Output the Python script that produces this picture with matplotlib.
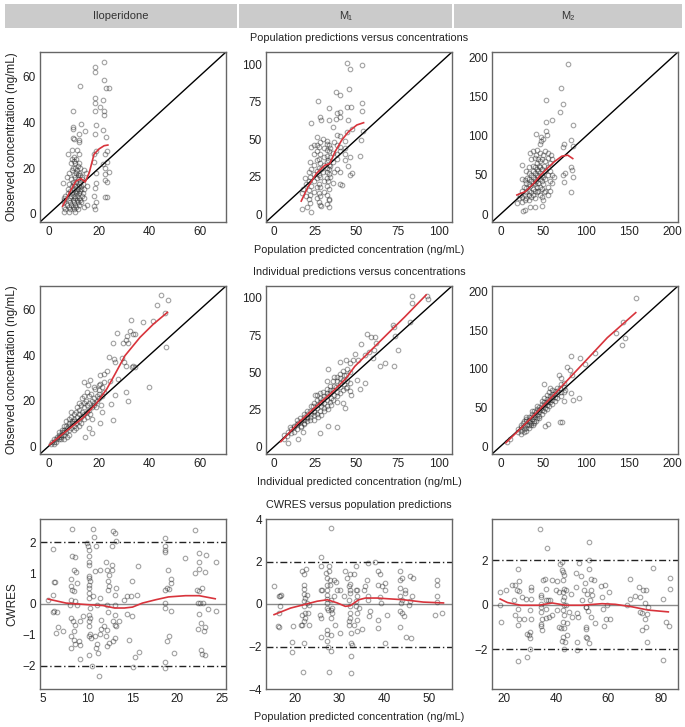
import matplotlib
matplotlib.use("Agg")
import matplotlib.pyplot as plt
from matplotlib.patches import Rectangle

plt.rcParams['font.family'] = ['Liberation Sans', 'DejaVu Sans']

# ---------------- text ----------------
columns = ["Iloperidone", "M\u2081", "M\u2082"]
row_titles = ["Population predictions versus concentrations",
              "Individual predictions versus concentrations",
              "CWRES versus population predictions"]
x_labels = ["Population predicted concentration (ng/mL)",
            "Individual predicted concentration (ng/mL)",
            "Population predicted concentration (ng/mL)"]
y_labels = ["Observed concentration (ng/mL)", "Observed concentration (ng/mL)", "CWRES"]

# ---------------- row 1 : PRED vs DV ----------------
ilo_pop_pts = [
    (5.5, 13.5), (9.5, 45), (9.8, 38), (9.8, 37), (9.7, 33), (9.9, 32.6), (7.8, 26), (11.9, 35), (11.9, 32),
    (12.7, 39), (12.4, 55.6), (14.5, 36), (12, 31.5), (12, 26), (18.2, 63.8), (18.2, 62), (21.8, 66.3),
    (22, 58.5), (22.9, 55), (23.8, 55), (18.2, 50.5), (18.2, 48.5), (18.2, 45), (20.3, 46.4), (21.6, 49.5),
    (22, 45), (22, 43), (18.6, 38.8), (18.2, 35), (21.4, 36.7), (22.6, 33.4), (18.7, 27.4), (18, 26),
    (22.4, 26), (23, 27.5), (23.8, 18.4), (22.4, 19.8), (21.6, 21.7), (23, 22.8), (22.4, 17.3), (22.4, 14.8),
    (23, 14), (18, 22.4), (18.7, 18), (18.9, 13.6), (18.4, 11.4), (18, 7.8), (18.9, 5.3), (18, 3.4),
    (18.3, 2.3), (22.4, 7.3), (23, 7.3),
    (6, 5), (6.1, 6), (5.9, 3), (6.2, 7), (6, 1), (6.5, 8), (6.6, 2), (7.4, 4), (7.5, 9), (7.6, 11),
    (7.3, 16), (8, 3), (8.1, 6), (7.9, 1), (8, 13), (8.2, 18), (8.5, 7), (8.6, 10), (8.4, 5), (8.5, 2),
    (8.7, 22), (9, 4), (9.1, 12), (8.9, 8), (9, 15), (9.2, 19), (9.1, 24), (9.5, 3), (9.6, 6), (9.4, 9),
    (9.5, 14), (9.6, 20), (9.4, 28), (10, 2), (10.1, 5), (10, 8), (10.2, 11), (10, 13), (10.1, 17),
    (10.3, 20), (10, 23), (10.2, 25), (10.5, 1), (10.6, 4), (10.5, 7), (10.4, 10), (10.6, 12), (10.5, 16),
    (10.7, 18), (10.5, 22), (11, 3), (11.1, 6), (10.9, 9), (11.2, 10), (11, 14), (11.1, 19), (11, 24),
    (11.2, 28), (11.5, 2), (11.6, 5), (11.4, 8), (11.5, 11), (11.7, 15), (11.5, 17), (11.6, 21),
    (12, 4), (12.1, 7), (11.9, 9), (12, 12), (12.2, 13), (12.1, 18), (12, 22), (12.5, 6), (12.6, 10),
    (12.4, 14), (12.5, 17), (12.6, 20), (13, 5), (13.1, 8), (12.9, 11), (13, 12), (13.2, 15), (13.5, 9),
    (13.6, 13), (13.4, 16), (14, 3), (14.1, 7), (13.9, 11), (14, 19), (15, 4), (15.1, 12), (14.9, 18),
]
ilo_pop_curve_x = [5.5, 8.2, 10.8, 12.8, 14.5, 16.1, 18.0, 20.0, 22.0, 23.5]
ilo_pop_curve_y = [3.4, 9.2, 14.3, 15.4, 13.9, 18.0, 26.0, 28.3, 29.7, 30.0]

m1_pop_pts = [
    (44.5, 100.7), (46.1, 96.7), (53.3, 99.3), (37.5, 81.5), (40.2, 79.5), (45.7, 83.5), (26.8, 75.5),
    (33.4, 71), (44, 71.7), (46.7, 71.7), (53.3, 74), (53.3, 68.6), (38.1, 67.7), (40, 68.4), (27.7, 64.8),
    (28.7, 62.8), (22.5, 61), (33.2, 62.8), (37.3, 63.7), (40.2, 64.6), (44.7, 62.8), (47.5, 56.6), (44, 55),
    (53.9, 55.7), (52.9, 49.4), (52, 38.8), (46.1, 38.3), (44.7, 32), (47.1, 27.6), (46.1, 26), (41.4, 19.4),
    (22.5, 45), (25.8, 51.7), (16.8, 3.8), (19.7, 4.9), (22.5, 1.6), (21.9, 7.6), (28.3, 5.6), (33.4, 4.9),
    (33.4, 9.4),
    (17, 14), (17.2, 17), (19, 12), (19.1, 20), (18.9, 24), (21, 10), (21.1, 16), (20.9, 22), (21, 28),
    (22, 13), (22.1, 19), (22, 25), (22.2, 30), (21.9, 35), (24, 15), (24.1, 22), (23.9, 27), (24, 33),
    (24.2, 40), (24, 46), (26, 11), (26.1, 18), (25.9, 24), (26, 29), (26.2, 36), (26, 42), (25.9, 46),
    (27, 8), (27.1, 14), (27, 20), (26.9, 26), (27.1, 31), (27, 37), (27.2, 45), (28, 6), (28.1, 12),
    (27.9, 18), (28, 25), (28.2, 30), (28, 34), (27.9, 40), (28.1, 48), (30, 15), (30.1, 22), (29.9, 28),
    (30, 33), (30.2, 38), (30, 44), (29.9, 50), (32, 7), (32.1, 13), (31.9, 19), (32, 24), (32.2, 28),
    (32, 31), (31.9, 35), (32.1, 39), (32, 43), (32.2, 47), (31.8, 49), (33, 10), (33.1, 17), (32.9, 22),
    (33, 27), (33.2, 30), (33, 33), (32.9, 36), (33.1, 42), (33, 46), (34, 25), (34.1, 32), (33.9, 38),
    (34, 44), (36, 21), (36.1, 28), (35.9, 35), (36, 41), (36.2, 48), (36, 58), (38, 30), (38.1, 37),
    (37.9, 40), (38, 46), (38.2, 53), (40, 20), (40.1, 28), (39.9, 42), (40, 45), (40.2, 52), (43, 36),
    (43.1, 40), (42.9, 44), (43, 49),
]
m1_pop_curve_x = [16.4, 20.5, 25.6, 30.7, 33.8, 36.9, 41.0, 45.1, 50.2, 54.3]
m1_pop_curve_y = [8.9, 18.3, 27.2, 32.7, 33.9, 41.6, 49.4, 55.0, 59.5, 61.0]

m2_pop_pts = [
    (78.3, 191.5), (70, 160.7), (72.3, 140), (69.6, 130), (53.4, 145.9), (53.4, 117.5), (60.5, 119.7),
    (84.2, 114.2), (41.1, 101.9), (46.6, 98.5), (49.4, 96), (53.4, 106), (54.5, 100.6), (47.4, 93.5),
    (82.2, 94.3), (74.3, 90), (72.3, 85.8), (84.2, 86.7), (72.3, 49.9), (75.1, 52), (74.3, 41.4),
    (82.2, 60.5), (83, 56.2), (84.2, 47.8), (82.2, 28.3), (24.9, 62.2), (19, 14), (25.7, 4.2), (28.9, 5.5),
    (34.8, 8.9), (40.7, 8.9), (48.6, 11),
    (22, 20), (22.3, 25), (25, 15), (25.2, 22), (24.8, 30), (25, 45), (28, 18), (28.2, 25), (27.8, 35),
    (28, 44), (30, 20), (30.2, 28), (29.8, 33), (30, 40), (30.3, 46), (30, 55), (33, 18), (33.2, 24),
    (32.8, 30), (33, 38), (33.3, 45), (33, 52), (32.8, 60), (35, 22), (35.2, 28), (34.8, 36), (35, 42),
    (35.3, 50), (35, 70), (34.8, 78), (38, 25), (38.2, 32), (37.8, 40), (38, 48), (38.3, 55), (38, 62),
    (37.8, 80), (40, 20), (40.2, 30), (39.8, 38), (40, 45), (40.3, 52), (40, 60), (39.8, 72), (42, 28),
    (42.2, 35), (41.8, 42), (42, 50), (42.3, 58), (42, 65), (41.8, 75), (42.2, 82), (44, 30), (44.2, 40),
    (43.8, 47), (44, 55), (44.3, 62), (44, 70), (46, 25), (46.2, 35), (45.8, 45), (46, 52), (46.3, 60),
    (46, 68), (45.8, 78), (46.2, 90), (48, 22), (48.2, 32), (47.8, 42), (48, 50), (48.3, 58), (48, 70),
    (50, 18), (50.2, 28), (49.8, 38), (50, 48), (50.3, 62), (50, 75), (52, 30), (52.2, 45), (51.8, 55),
    (52, 68), (52.3, 80), (55, 25), (55.2, 35), (54.8, 50), (55, 60), (55.3, 72), (55, 78), (58, 30),
    (58.2, 42), (57.8, 55), (58, 65), (58.3, 75), (60, 40), (60.2, 50), (59.8, 70), (62, 48),
]
m2_pop_curve_x = [19.0, 28.9, 38.7, 46.6, 54.5, 62.5, 71.5, 78.3, 84.2]
m2_pop_curve_y = [24.5, 28.8, 39.3, 49.9, 58.4, 66.8, 74.0, 75.3, 71.0]

# ---------------- row 2 : IPRED vs DV ----------------
ilo_ind_pts = [
    (44.7, 66.6), (43, 62.2), (47.5, 64.3), (46.4, 58.6), (46.8, 43.5), (41.4, 55.2), (37.5, 54.8),
    (32.6, 55.6), (32.5, 50.8), (33.6, 49.3), (34.3, 49.3), (31, 48.3), (27.3, 49.8), (30.7, 46.7),
    (29.7, 45.4), (31.7, 45.4), (25.6, 45.4), (24.1, 39.1), (26, 38.4), (26.4, 37.2), (29.3, 38.8),
    (29.9, 36.9), (30.7, 35.4), (33, 34.7), (33.6, 35.4), (34.3, 35), (40, 26.2), (30.7, 23.7),
    (31.7, 19.9), (26.4, 22.5), (24.7, 18.4), (25.5, 11.3), (20.4, 10.2), (21.1, 14.9), (14.5, 4),
    (17.2, 5.9), (27.7, 29.6), (24.4, 28.8), (23.1, 33.2), (21.8, 31.8), (20.2, 31.5), (16.2, 29.3),
    (15.4, 26.9), (13.9, 28.1), (17.8, 25.9), (19.8, 24.5), (20.4, 27.4),
    (1, 1), (1.2, 2), (2, 1), (2.1, 3), (1.9, 2), (3, 2), (3.1, 4), (2.9, 3), (4, 3), (4.1, 5), (3.9, 4),
    (4.2, 6), (5, 4), (5.1, 6), (4.9, 5), (5.2, 7), (5, 3), (6, 5), (6.1, 7), (5.9, 6), (6.2, 9), (6, 3),
    (7, 6), (7.1, 8), (6.9, 9), (7.2, 4), (7, 11), (8, 7), (8.1, 10), (7.9, 9), (8.2, 12), (8, 5),
    (9, 8), (9.1, 11), (8.9, 13), (9.2, 10), (9, 15), (10, 9), (10.1, 12), (9.9, 14), (10.2, 11),
    (10, 7), (11, 10), (11.1, 13), (10.9, 15), (11.2, 17), (11, 8), (12, 11), (12.1, 14), (11.9, 16),
    (12.2, 19), (12, 9), (13, 13), (13.1, 15), (12.9, 18), (13.2, 21), (13, 10), (14, 14), (14.1, 17),
    (13.9, 19), (14.2, 22), (14, 12), (15, 15), (15.1, 18), (14.9, 20), (15.2, 24), (15, 13), (16, 16),
    (16.1, 19), (15.9, 22), (16.2, 14), (16, 8), (17, 17), (17.1, 20), (16.9, 23), (17.2, 12), (18, 18),
    (18.1, 21), (17.9, 19), (18.2, 25), (19, 20), (19.1, 22), (18.9, 17), (20, 21), (20.1, 23),
    (19.9, 27), (21, 22), (21.1, 26), (20.9, 18), (22, 24), (22.1, 28),
]
ilo_ind_curve_x = [0.3, 7.3, 13.9, 19.1, 23.1, 26.4, 30.3, 36.3, 41.6, 47.2]
ilo_ind_curve_y = [0.6, 6.9, 12.7, 19.0, 25.2, 31.8, 39.8, 47.9, 53.7, 58.9]

m1_ind_pts = [
    (83.8, 101.1), (83.8, 96.5), (92.9, 101.1), (93.3, 99.3), (82.2, 83.8), (71.9, 81.8), (72.7, 80.5),
    (73.1, 74.3), (75.2, 65), (72.9, 53.9), (67.5, 56.1), (64, 53.9), (60, 59.4), (56.4, 75.6), (59, 73.8),
    (61, 73.4), (62.1, 69.4), (60.6, 65), (57.4, 63.9), (52.5, 68.7), (55, 61.9), (50.9, 58.3),
    (49.3, 62.1), (47.9, 57.9), (55, 42.6), (52.1, 38.8), (50.5, 45), (43.8, 58.3), (39.8, 57.2),
    (32.7, 52.1), (38.4, 12.9), (32.7, 14), (27.7, 9.1), (14.5, 5.1), (8.1, 2.4), (17.6, 9.5), (41.8, 29),
    (42.8, 26.2), (24.6, 34.4), (43.8, 39.5), (45.9, 37.3), (46.9, 35),
    (6, 5), (6.2, 8), (8, 7), (8.2, 10), (10, 9), (10.2, 12), (9.8, 13), (12, 10), (12.2, 14), (11.8, 13),
    (14, 12), (14.2, 16), (13.8, 15), (14.1, 18), (16, 14), (16.2, 17), (15.8, 19), (16.1, 13), (18, 15),
    (18.2, 18), (17.8, 20), (18.1, 22), (17.9, 16), (20, 17), (20.2, 20), (19.8, 22), (20.1, 24),
    (19.9, 19), (22, 18), (22.2, 22), (21.8, 24), (22.1, 27), (21.9, 20), (24, 21), (24.2, 24),
    (23.8, 27), (24.1, 29), (23.9, 18), (24.3, 23), (26, 22), (26.2, 26), (25.8, 28), (26.1, 31),
    (25.9, 35), (26.3, 20), (28, 24), (28.2, 27), (27.8, 30), (28.1, 33), (27.9, 36), (28.3, 21),
    (28.4, 29), (30, 26), (30.2, 29), (29.8, 32), (30.1, 34), (29.9, 37), (30.3, 24), (32, 27),
    (32.2, 31), (31.8, 34), (32.1, 36), (31.9, 39), (32.3, 44), (32.4, 25), (34, 30), (34.2, 33),
    (33.8, 36), (34.1, 38), (33.9, 41), (34.3, 28), (36, 31), (36.2, 35), (35.8, 38), (36.1, 41),
    (35.9, 44), (36.3, 47), (38, 34), (38.2, 37), (37.8, 40), (38.1, 44), (37.9, 47), (38.3, 30),
    (40, 36), (40.2, 40), (39.8, 43), (40.1, 46), (39.9, 49), (42, 38), (42.2, 42), (41.8, 45),
    (42.1, 48), (41.9, 51), (44, 40), (44.2, 44), (43.8, 48), (44.1, 52), (46, 43), (46.2, 50), (45.8, 56),
]
m1_ind_curve_x = [4.0, 14.5, 24.6, 34.7, 43.8, 48.9, 59.0, 69.1, 79.2, 92.3]
m1_ind_curve_y = [3.3, 15.7, 26.2, 36.1, 46.1, 53.9, 65.0, 76.1, 87.1, 102.0]

m2_ind_pts = [
    (157.7, 192), (142.9, 160.4), (134.2, 146.5), (142.1, 131), (145.2, 140.2), (110, 120.4), (82.2, 117),
    (92.8, 114.1), (98.3, 106.5), (92, 61.9), (82.2, 68.6), (72, 30.7), (69.7, 31.6), (54.8, 28.6),
    (52.1, 26.5), (38.4, 27.4), (50.9, 80), (57.9, 75.4), (67.7, 91.8), (70.5, 87.6), (77.5, 102.3),
    (81.4, 98.9), (83.4, 91.8), (75.5, 72.8), (84.5, 60.2), (73.6, 58.1), (7, 5.5), (11, 8.8),
    (20, 18), (20.3, 22), (24, 20), (24.3, 25), (23.7, 28), (24.1, 16), (27, 22), (27.3, 26), (26.7, 30),
    (27.1, 33), (26.9, 18), (30, 24), (30.3, 28), (29.7, 32), (30.1, 35), (29.9, 20), (30.2, 38),
    (33, 27), (33.3, 31), (32.7, 34), (33.1, 38), (32.9, 24), (36, 30), (36.3, 35), (35.7, 38),
    (36.1, 42), (35.9, 28), (36.2, 45), (39, 33), (39.3, 38), (38.7, 41), (39.1, 45), (38.9, 30),
    (42, 36), (42.3, 40), (41.7, 44), (42.1, 48), (41.9, 33), (42.2, 52), (45, 39), (45.3, 44),
    (44.7, 47), (45.1, 51), (44.9, 36), (48, 42), (48.3, 47), (47.7, 50), (48.1, 54), (47.9, 58),
    (51, 45), (51.3, 50), (50.7, 53), (51.1, 57), (50.9, 62), (54, 48), (54.3, 53), (53.7, 57),
    (54.1, 61), (53.9, 66), (57, 52), (57.3, 57), (56.7, 60), (57.1, 65), (56.9, 70), (60, 55),
    (60.3, 60), (59.7, 64), (60.1, 68), (59.9, 73), (63, 58), (63.3, 63), (62.7, 67), (63.1, 72),
    (66, 62), (66.3, 67), (65.7, 71), (66.1, 75), (70, 65), (70.3, 70), (69.7, 75), (70.1, 80),
    (74, 70), (74.3, 76), (73.7, 82),
]
m2_ind_curve_x = [6.3, 26.6, 46.2, 65.8, 85.3, 104.9, 124.5, 157.7]
m2_ind_curve_y = [4.6, 26.5, 48.4, 70.7, 93.9, 117.0, 140.2, 172.6]

# ---------------- row 3 : PRED vs CWRES ----------------
ilo_cw_pts = [
    (5.6, 0.12), (6.2, 1.8), (6.2, 0.29), (6.3, 0.7), (6.4, 0.7), (6.2, -0.26), (6.3, -0.22), (6.6, -0.26),
    (6.5, -0.94), (6.7, -0.75), (7.3, -0.89), (8.3, 2.43), (8.3, 1.55), (8.6, 1.51), (8.5, 1.11),
    (8.7, 1.03), (8.1, 0.81), (8.2, 0.57), (8.3, 0.46), (8.5, 0.41), (8.8, 0.68), (8.2, 0.14), (8.6, 0.09),
    (8, -0.02), (8.8, -0.02), (8.2, -0.45), (8.4, -0.56), (8.6, -0.67), (8.5, -0.89), (8.2, -1.05),
    (8.5, -1.16), (8.6, -1.29), (8.1, -1.44), (9, -1.21), (9.1, -1.32), (9.1, -1.78), (9.1, -0.56),
    (9.5, -0.4), (9.9, 1.98), (10, 1.87), (10.1, 1.76), (10.2, 1.57), (10.1, 1.38), (10.1, 1.28),
    (10.2, 0.92), (10.1, 0.84), (10.3, 0.74), (10.2, 0.63), (10.1, 0.52), (10.2, 0.36), (10.1, 0.19),
    (10.3, -0.13), (10.2, -0.35), (10.3, -0.45), (10.1, -0.56), (10.2, -0.72), (10.3, -0.96),
    (10.1, -1.05), (10.4, -1.1), (10.2, -1.64), (10.6, 2.43), (10.7, 2.19), (10.9, 1.87), (10.8, 1.06),
    (10.6, 0.25), (11, -0.02), (10.8, -1.05), (11, -1.29), (10.9, -1.43), (11.1, -1.59), (10.5, -2),
    (11.3, -2.35), (11.4, 1.11), (11.4, 0.19), (11.5, -0.51), (11.5, -0.81), (11.4, -0.99), (11.8, -0.72),
    (12.1, 1.38), (12.2, 1.11), (12.3, 0.74), (12.3, 0.46), (12.2, -0.02), (12.3, -0.27), (12.2, -0.83),
    (12.1, -1.05), (12.2, -1.35), (12.4, -1.26), (12.4, 0.95), (12.4, 0.57), (12.7, 1.87), (12.8, 2.36),
    (13.1, 2.3), (13.2, 2.03), (12.7, 1.28), (12.7, 1.11), (13, 0.3), (13.2, 0.52), (13, -0.02),
    (13.1, -0.35), (12.8, -0.56), (13, -0.67), (13.1, -1.1), (12.8, -1.21), (13.2, -0.72), (13.5, -0.56),
    (14, 0.14), (14.4, -0.31), (14.4, 0.25), (14.6, -1.18), (14.8, 0.27), (14.9, 0.76), (14.9, -0.38),
    (15, -2.05), (15.3, -1.72), (15.5, 0.3), (15.6, 1.24), (15.7, -1.57), (18.6, 2.14), (18.6, 1.87),
    (18.6, 1.76), (18.6, 1.68), (18.6, 0.46), (18.8, 0.52), (18.6, 0.03), (18.6, -0.13), (18.8, -1.19),
    (18.6, -1.89), (18.6, -2.09), (18.9, 1.11), (19.1, 0.49), (19.3, 0.68), (19.3, 0.81), (19.3, -0.24),
    (19.1, -1.05), (19.6, -1.59), (20.8, 1.49), (21.9, 2.39), (21.9, 1.01), (22.2, 0.46), (22.3, 0.03),
    (22.4, 1.65), (22.4, 1.38), (22.4, 1.14), (22.4, 0.41), (22.5, 0.03), (22.4, -0.31), (22.3, -0.81),
    (22.6, -0.62), (22.7, 0.52), (22.6, -1.48), (22.7, -1.61), (22.9, -0.89), (23.1, 1.03), (23.1, -0.75),
    (23.1, -1.64), (23.2, 1.6), (23.4, -0.16), (24.3, 1.38), (24.3, -0.24), (22.8, 0.03),
]
ilo_cw_curve_x = [5.6, 7.6, 9.9, 11.7, 13.0, 14.1, 15.0, 16.1, 17.6, 19.0, 20.9, 22.4, 24.2]
ilo_cw_curve_y = [0.16, 0.03, -0.02, -0.05, -0.13, -0.13, -0.10, 0.03, 0.14, 0.23, 0.27, 0.27, 0.17]

m1_cw_pts = [
    (15.3, 0.83), (16.4, 0.39), (16.9, 0.44), (16.7, 0.36), (16.7, -0.11), (16.4, -0.43), (16.3, -1.02),
    (16.4, -1.06), (19.5, -1.81), (19.5, -2.24), (19.7, -1.02), (21.6, 1.56), (22.5, 1.67), (21.3, -0.98),
    (21.7, -0.98), (22.1, 1.39), (22.1, 0.91), (22.1, 0.71), (22.1, 0.49), (22.2, 0.28), (22.1, 0.13),
    (22.1, -0.08), (22.2, -0.43), (21.7, -0.5), (22.4, -0.66), (22.1, -0.82), (22.1, -1.84), (21.9, -3.21),
    (22.8, 0.05), (23.0, -0.43), (23.3, -0.03), (22.7, 0.44), (23.2, -0.98), (25.9, 2.2), (25.8, 0.68),
    (26.1, 0.68), (25.9, -0.66), (25.8, -1.53), (25.9, 1.8), (25.6, -0.5), (26.9, 1.46), (27.1, 1.23),
    (27.1, 0.91), (27.3, 0.68), (27.3, 0.44), (27.1, 0.24), (27.3, 0.05), (27.3, -0.19), (27.4, -0.3),
    (27.1, -1.21), (27.3, -1.4), (27.3, -1.76), (27.4, -2.0), (27.6, -3.18), (27.6, 1.78), (27.7, 1.54),
    (27.8, 1.15), (27.8, 0.91), (28.0, -0.27), (28.0, -0.66), (28.0, -1.45), (28.0, -2.19), (28.4, -0.19),
    (28.4, -0.43), (28.1, 3.59), (28.2, 0.2), (28.7, 1.15), (29.2, 1.02), (29.5, 0.68), (28.7, 0.36),
    (28.9, -0.98), (30.1, 0.68), (30.0, -1.37), (31.0, 0.36), (31.3, 1.54), (31.6, 1.23), (32.3, 1.39),
    (32.4, 0.94), (32.2, 0.83), (32.4, 0.68), (32.3, 0.52), (32.1, 0.2), (32.4, -0.11), (32.3, -0.43),
    (32.4, -0.66), (32.1, -0.82), (32.2, -0.98), (32.6, -1.37), (32.6, -1.84), (32.6, -3.26), (32.6, -2.47),
    (32.8, -1.92), (33.6, 1.78), (33.3, 1.39), (33.6, 0.68), (33.9, 0.68), (33.8, 0.36), (33.6, 0.13),
    (33.6, -0.11), (33.8, -0.43), (33.9, -0.74), (34.3, -0.19), (33.2, -0.98), (33.9, -1.29), (35.0, -1.18),
    (35.4, 0.68), (35.8, 0.83), (36.1, 1.15), (36.3, 0.36), (36.4, 0.2), (36.5, -0.58), (36.9, -0.35),
    (36.3, 1.94), (38.0, 1.97), (38.7, 1.54), (39.0, 1.39), (38.7, 0.91), (39.5, 0.83), (40.2, 0.99),
    (40.2, 0.65), (39.1, 0.33), (39.3, 0.05), (38.7, -0.74), (38.6, -1.13), (40.6, -0.5), (40.2, -1.84),
    (43.6, 1.54), (43.6, 1.15), (43.9, 1.23), (43.6, 0.76), (44.7, 0.68), (44.7, 0.52), (43.6, 0.39),
    (43.9, 0.2), (43.7, 0.05), (43.6, -0.35), (43.9, -0.43), (44.3, -0.58), (43.6, -1.1), (44.9, -1.53),
    (45.9, -1.61), (45.8, 1.34), (46.4, 1.23), (45.8, 0.13), (45.4, -0.03), (46.1, 0.36), (51.7, 1.12),
    (51.7, 0.91), (51.7, 0.36), (51.7, 0.08), (51.4, -0.5), (52.8, -0.43),
]
m1_cw_curve_x = [15.4, 19.1, 22.1, 25.0, 27.3, 29.5, 31.3, 32.4, 34.3, 35.8, 38.4, 41.3, 44.3, 48.7, 53.2]
m1_cw_curve_y = [-0.50, -0.19, -0.03, 0.13, 0.20, 0.05, -0.11, -0.08, 0.20, 0.28, 0.28, 0.24, 0.20, 0.09, 0.05]

m2_cw_pts = [
    (18.7, 0.57), (18.7, -0.03), (19, -0.78), (21.1, 0.67), (23.2, 0.9), (24.4, 0.87), (24.1, 0.19),
    (24.4, -0.48), (25.4, 1.58), (25.9, 1.04), (25.3, 0.64), (25.9, 0.6), (25.7, -0.18), (25.7, -0.93),
    (25.9, -0.63), (25.7, -2.52), (27.2, 0.34), (27.8, -0.63), (28.5, 0.27), (28.9, -1.33), (28.9, -2.34),
    (29.7, -1.37), (30, -1.52), (30.4, 0.79), (30.4, 0.67), (30.4, 0.27), (30, -0.25), (30.4, -0.63),
    (30, -1.22), (30, -2.01), (33.8, 3.4), (34.2, 0.42), (34.2, 0.34), (34.2, 0.04), (34.2, -0.13),
    (34.2, -0.33), (34.6, -0.63), (34.2, -0.88), (34.2, -0.97), (34.8, -1.15), (35.1, 1.12), (35.7, 1.16),
    (36.1, 0.72), (36.3, 0.19), (36.1, -0.18), (36.3, -0.6), (36.7, 2.55), (37.1, 0.19), (37.3, -0.58),
    (37.9, 0.19), (38.4, 1.12), (38.6, -0.48), (39.9, 0.67), (40.5, 1.06), (41.1, 0.57), (40.5, -0.25),
    (41.1, -1), (41.4, 1.81), (41.9, -1.07), (42.2, -1.63), (42.4, 1.91), (42.4, 1.54), (42.7, 1.46),
    (43, 1.31), (42.7, 1.09), (43, 0.72), (42.7, 0.57), (43, 0.34), (42.7, 0.19), (43, -0.03),
    (42.7, -0.25), (43, -0.48), (42.7, -0.78), (43, -1.07), (42.7, -1.45), (43, -2.01), (43.4, -1.67),
    (43.7, -0.03), (43.9, 0.64), (44.1, -0.85), (44.3, -1.37), (44.9, -0.33), (45.6, 0.49), (46.2, -0.55),
    (47.5, 0.79), (47.7, 1.43), (48.1, -1.7), (48.1, -2.04), (48.1, -0.37), (48.5, -0.55), (48.7, 1.87),
    (49.4, 1.27), (50, 0.19), (50.6, 0.64), (51, 0.97), (51.3, -0.1), (51.3, -0.13), (51.5, -1),
    (51.3, -1.12), (51.6, -1.45), (51.9, -1.52), (51.9, 0.49), (52.3, -0.28), (52.5, 2.81), (52.5, 1.99),
    (52.8, 1.58), (53.2, 0.64), (52.9, 0.19), (53.2, -0.55), (52.5, -1.75), (53.2, 1.16), (54.4, 1.12),
    (53.8, 0.42), (55.1, -0.85), (57.3, 0.82), (57.6, 0.34), (57.8, -0.18), (58.2, -0.97), (58.9, 0.87),
    (59.5, -0.03), (59.1, -0.67), (60.1, 0.57), (60.8, -0.67), (67.3, -0.03), (68.4, 1.16), (68.4, 0.27),
    (70.3, 0.37), (71.9, 0.79), (72.2, 0.34), (72.2, -0.33), (72.8, -0.37), (73, -1.15), (73.4, 0.64),
    (74, 0.07), (74, -0.63), (74.3, 0.67), (74.3, -1), (74.7, -1.67), (74.7, -0.43), (75.1, -0.13),
    (77.2, 1.66), (81, 0.27), (81, -2.49), (81.9, -0.78), (83.2, -0.97), (83.5, 1.21), (83.5, 0.72),
]
m2_cw_curve_x = [18.7, 21.5, 26.5, 33.5, 38.6, 43.7, 50.0, 57.6, 62.7, 69.0, 75.3, 82.9]
m2_cw_curve_y = [0.25, 0.09, -0.03, -0.03, 0.07, -0.03, -0.03, 0.04, 0.01, -0.10, -0.25, -0.33]

# ---------------- axis settings ----------------
conc_limits = [(-3.5, 70.5), (-5, 108), (-10, 207)]
conc_ticks = [[0, 20, 40, 60], [0, 25, 50, 75, 100], [0, 50, 100, 150, 200]]
cw_xlim = [(4.7, 25.4), (13.6, 55.1), (15.6, 86.6)]
cw_ylim = [(-2.76, 2.76), (-4, 4), (-3.8, 3.85)]
cw_xticks = [[5, 10, 15, 20, 25], [20, 30, 40, 50], [20, 40, 60, 80]]
cw_yticks = [[-2, -1, 0, 1, 2], [-4, -2, 0, 2, 4], [-2, 0, 2]]

panels = [
    [(ilo_pop_pts, ilo_pop_curve_x, ilo_pop_curve_y), (m1_pop_pts, m1_pop_curve_x, m1_pop_curve_y),
     (m2_pop_pts, m2_pop_curve_x, m2_pop_curve_y)],
    [(ilo_ind_pts, ilo_ind_curve_x, ilo_ind_curve_y), (m1_ind_pts, m1_ind_curve_x, m1_ind_curve_y),
     (m2_ind_pts, m2_ind_curve_x, m2_ind_curve_y)],
    [(ilo_cw_pts, ilo_cw_curve_x, ilo_cw_curve_y), (m1_cw_pts, m1_cw_curve_x, m1_cw_curve_y),
     (m2_cw_pts, m2_cw_curve_x, m2_cw_curve_y)],
]

W, H = 685, 727
fig = plt.figure(figsize=(W / 100, H / 100), dpi=100)

col_left = [40, 266, 492]
col_w = 186
row_top = [52, 286, 519]
row_h = [170, 168, 170]

# header bar
cells = [(5, 237), (239, 452), (454, 682)]
for (x0, x1), name in zip(cells, columns):
    fig.patches.append(Rectangle((x0 / W, 1 - 28 / H), (x1 - x0) / W, 24 / H,
                                 transform=fig.transFigure, facecolor='#cbcbcb', edgecolor='none'))
    fig.text((x0 + x1) / 2 / W, 1 - 16 / H, name, ha='center', va='center', fontsize=8, color='#333333')

red = '#d8343c'
for r in range(3):
    for c in range(3):
        ax = fig.add_axes([col_left[c] / W, 1 - (row_top[r] + row_h[r]) / H, col_w / W, row_h[r] / H])
        pts, cx, cy = panels[r][c]
        xs = [p[0] for p in pts]
        ys = [p[1] for p in pts]
        if r < 2:
            lo, hi = conc_limits[c]
            ax.plot([lo, hi], [lo, hi], color='black', lw=1.0, zorder=2)
            ax.set_xlim(lo, hi)
            ax.set_ylim(lo, hi)
            ax.set_xticks(conc_ticks[c])
            ax.set_yticks(conc_ticks[c])
        else:
            ax.axhline(0, color='#8a8a8a', lw=1.0, zorder=1)
            for v in (-2, 2):
                ax.axhline(v, color='#222222', lw=1.0, ls=(0, (5, 2, 1, 2)), zorder=1)
            ax.set_xlim(*cw_xlim[c])
            ax.set_ylim(*cw_ylim[c])
            ax.set_xticks(cw_xticks[c])
            ax.set_yticks(cw_yticks[c])
        ax.plot(xs, ys, 'o', mfc='none', mec='#222222', alpha=0.42, ms=3.3, mew=0.8, zorder=3)
        ax.plot(cx, cy, color=red, lw=1.2, zorder=4)
        for s in ax.spines.values():
            s.set_color('#666666')
            s.set_linewidth(1.0)
        ax.tick_params(length=0, pad=3, labelsize=8.5, colors='#222222')
        if c == 0:
            ax.set_ylabel(y_labels[r], fontsize=8.5, color='#222222', labelpad=3)
    # row title and x label
    xc = (col_left[1] + col_w / 2) / W
    fig.text(xc, 1 - (row_top[r] - 14) / H, row_titles[r], ha='center', va='center', fontsize=7.8,
             color='#222222')
    fig.text(xc, 1 - (row_top[r] + row_h[r] + 28) / H, x_labels[r], ha='center', va='center',
             fontsize=7.8, color='#222222')

fig.savefig('out.png', dpi=100, facecolor='white')
